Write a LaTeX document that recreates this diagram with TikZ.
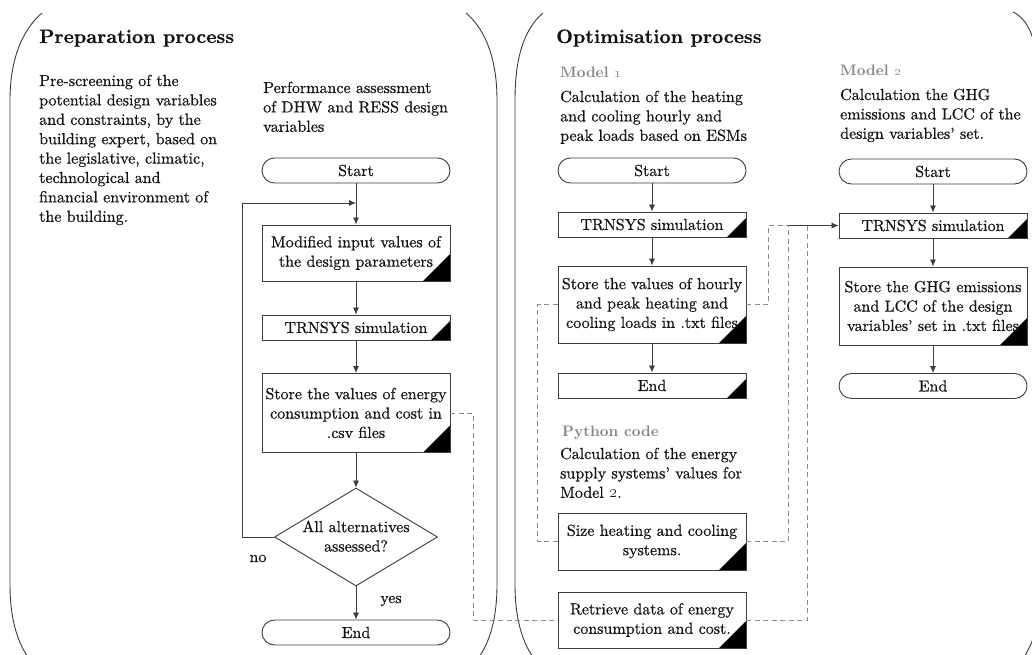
\documentclass[tikz,border=0pt]{standalone}
\usetikzlibrary{arrows.meta,shapes.geometric,calc}
\definecolor{ink}{HTML}{141414}
\definecolor{edge}{HTML}{3C3C3C}
\definecolor{dashgray}{HTML}{8C8C8C}
\definecolor{labelgray}{HTML}{868686}
% text faces: Latin Modern (10pt design), body slightly emboldened
\font\bodyrm="[lmroman10-regular.otf]:mapping=tex-text;embolden=0.6" at 16pt
\font\headbf="[lmroman10-bold.otf]:mapping=tex-text;embolden=0.4" at 19.4pt
\font\modelbf="[lmroman10-bold.otf]:mapping=tex-text" at 15.2pt
\begin{document}
\begin{tikzpicture}[x=1pt,y=-1pt,
  body/.style={font=\fontsize{16}{19.4}\selectfont\bodyrm},
  txt/.style={body, text=ink, align=left, inner sep=0pt},
  head/.style={font=\fontsize{19.4}{24}\selectfont\bfseries\headbf, text=ink, inner sep=0pt},
  model/.style={font=\fontsize{15.2}{18}\selectfont\bfseries\modelbf, text=labelgray, inner sep=0pt},
  box/.style={draw=edge, line width=0.9pt, minimum width=188pt, text width=184pt, inner sep=1pt,
    align=center, body, text=ink},
  proc/.style={box, minimum height=#1pt},
  corner/.style={path picture={\fill[black] (path picture bounding box.south east)
    -- ++(-#1pt,0pt) -- ++(#1pt,#1pt) -- cycle;}},
  stadium/.style={box, rounded corners=12.5pt, minimum height=25pt},
  decision/.style={draw=edge, line width=0.9pt, shape=diamond, aspect=1.66,
    minimum width=163pt, minimum height=98pt, inner sep=0pt},
  flow/.style={draw=edge, line width=0.8pt, -{Latex[length=7pt,width=6pt]}},
  link/.style={draw=dashgray, line width=0.8pt, dash pattern=on 5pt off 3.5pt},
  panel/.style={draw=edge, line width=0.9pt}]
\useasboundingbox (0,0) rectangle (1032,655);
\clip (0,0) rectangle (1032,655);
\fill[white] (0,0) rectangle (1032,655);

% panel outlines (bracket-shaped frames)
\draw[panel] (42,13) .. controls (22,30) and (10,60) .. (10,100) -- (10,585)
  .. controls (10,615) and (16,640) .. (28,657);
\draw[panel] (466,13) .. controls (486,30) and (497,60) .. (497,100) -- (497,585)
  .. controls (497,615) and (491,640) .. (479,657);
\draw[panel] (543,13) .. controls (523,30) and (515,60) .. (515,100) -- (515,585)
  .. controls (515,615) and (521,640) .. (533,657);
\draw[panel] (1013,12) .. controls (1030,20) and (1040,45) .. (1040,100) -- (1040,585)
  .. controls (1040,620) and (1035,640) .. (1024,657);

% ---------------- preparation process ----------------
% multi-line texts are anchored at the baseline of their last line
\node[head, anchor=base west] (prephead) at (39,43) {Preparation process};
\node[txt, anchor=base west] (prepdesc) at (39,221.8) {Pre-screening of the\\potential design variables\\and constraints, by the\\building expert, based on\\the legislative, climatic,\\technological and\\financial environment of\\the building.};
\node[txt, anchor=base west] (perfdesc) at (263,131.8) {Performance assessment\\of DHW and RESS design\\variables};

\node[stadium] (startL) at (356,170.5) {Start};
\node[proc=56, corner=27] (modL) at (356,253) {Modified input values of\\the design parameters};
\node[proc=25, corner=19] (trnL) at (356,327.5) {TRNSYS simulation};
\node[proc=79, corner=27] (stoL) at (356,413) {Store the values of energy\\consumption and cost in\\.csv files};
\node[decision] (dia) at (356,537) {};
\node[txt, align=center, anchor=base] (diatext) at (356,551.5) {All alternatives\\assessed?};
\node[stadium] (endL) at (356,632.5) {End};
\coordinate (loopL) at (356,203);

\draw[flow] (startL) -- (modL);
\draw[flow] (modL) -- (trnL);
\draw[flow] (trnL) -- (stoL);
\draw[flow] (stoL) -- (dia);
\draw[flow] (dia) -- (endL);
\draw[flow] (dia.west) -- ++(-32,0) |- (loopL);
\node[txt, anchor=base] (nolab) at (258,562) {no};
\node[txt, anchor=base] (yeslab) at (391,603) {yes};

% ---------------- optimisation process ----------------
\node[head, anchor=base west] (opthead) at (556,43) {Optimisation process};

\node[model, anchor=base west] (m1head) at (560,78) {Model \oldstylenums{1}};
\node[txt, anchor=base west] (m1desc) at (560,140.8) {Calculation of the heating\\and cooling hourly and\\peak loads based on ESMs};
\node[stadium] (startM1) at (652,170.5) {Start};
\node[proc=25, corner=19] (trnM1) at (652,224.5) {TRNSYS simulation};
\node[proc=77, corner=27] (stoM1) at (652,304.5) {Store the values of hourly\\and peak heating and\\cooling loads in .txt files};
\node[proc=25, corner=19] (endM1) at (652,385.5) {End};

\node[model, anchor=base west] (pyhead) at (562,436) {Python code};
\node[txt, anchor=base west] (pydesc) at (560,497.8) {Calculation of the energy\\supply systems’ values for\\Model \oldstylenums{2}.};
\node[proc=57, corner=27] (size) at (652,541.5) {Size heating and cooling\\systems.};
\node[proc=56, corner=27] (retr) at (652,620) {Retrieve data of energy\\consumption and cost.};

\node[model, anchor=base west] (m2head) at (840,76) {Model \oldstylenums{2}};
\node[txt, anchor=base west] (m2desc) at (840,138.8) {Calculation the GHG\\emissions and LCC of the\\design variables’ set.};
\node[stadium] (startM2) at (933,171.5) {Start};
\node[proc=25, corner=19] (trnM2) at (933,225.5) {TRNSYS simulation};
\node[proc=78, corner=27] (stoM2) at (933,306) {Store the GHG emissions\\and LCC of the design\\variables’ set in .txt files};
\node[stadium] (endM2) at (933,386) {End};

\draw[flow] (startM1) -- (trnM1);
\draw[flow] (trnM1) -- (stoM1);
\draw[flow] (stoM1) -- (endM1);
\draw[flow] (startM2) -- (trnM2);
\draw[flow] (trnM2) -- (stoM2);
\draw[flow] (stoM2) -- (endM2);

% data hand-over between the models
\coordinate (j1) at ($(trnM2.west)+(-50,0)$);
\coordinate (j2) at ($(trnM2.west)+(-31,0)$);
\draw[link] (stoL.east) -- ++(23,0) |- (retr.west);
\draw[link] (stoM1.west) -- ++(-20,0) |- (size.west);
\draw[link] (stoM1.east) -- ++(22,0) |- (j1);
\draw[link] (size.east) -| (j1);
\draw[link] (retr.east) -| (j2);
\draw[flow] (j1) -- (trnM2.west);
\draw[flow, draw=none, fill=edge] ($(retr.west)+(-1,0)$) -- (retr.west);
\draw[flow, draw=none, fill=edge] ($(size.west)+(-1,0)$) -- (size.west);
\end{tikzpicture}
\end{document}
